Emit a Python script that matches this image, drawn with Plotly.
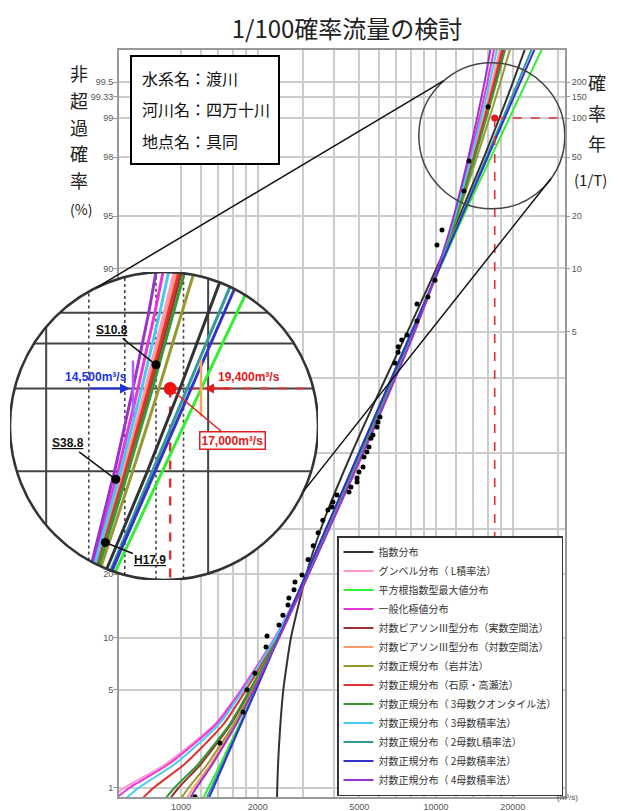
import math
from statistics import NormalDist
import plotly.graph_objects as go

_nd = NormalDist()


def zq(p):
    """Non-exceedance probability -> normal probability-paper coordinate."""
    return _nd.inv_cdf(p)


# ---------------------------------------------------------------- data
# non-exceedance probabilities at which the fitted curves were read
P_LEVELS = [0.008, 0.01, 0.015, 0.02, 0.03, 0.05, 0.1, 0.2, 0.5, 0.8, 0.9, 0.95, 0.98, 0.99, 0.995, 0.998]

Q_GUMBEL   = [518, 598, 853, 1044, 1358, 1715, 2335, 3147, 5200, 8250, 10218, 11930, 13910, 15290, 16600, 18210]
Q_SQRTET   = [1214, 1279, 1419, 1526, 1698, 1953, 2410, 3100, 4990, 8030, 10340, 12810, 16420, 19390, 22610, 27250]
Q_GEV      = [546, 626, 879, 1068, 1377, 1729, 2341, 3148, 5180, 8240, 10185, 11810, 13600, 14810, 15920, 17240]
Q_LP3_REAL = [898, 977, 1184, 1334, 1574, 1873, 2405, 3162, 5120, 8180, 10240, 12000, 14110, 15610, 17060, 18870]
Q_LP3_LOG  = [1045, 1119, 1297, 1428, 1639, 1920, 2424, 3166, 5130, 8190, 10225, 11950, 13980, 15400, 16760, 18430]
Q_LN_IWAI  = [992, 1069, 1259, 1395, 1617, 1904, 2418, 3165, 5100, 8160, 10280, 12140, 14480, 16200, 17900, 20080]
Q_LN_IT    = [697, 779, 1018, 1192, 1471, 1799, 2372, 3155, 5140, 8200, 10230, 11980, 14040, 15510, 16910, 18650]
Q_LN3_QT   = [861, 941, 1156, 1310, 1557, 1861, 2399, 3161, 5110, 8170, 10250, 12040, 14200, 15760, 17270, 19160]
Q_LN3_MOM  = [599, 680, 929, 1114, 1412, 1755, 2353, 3151, 5150, 8220, 10200, 11870, 13750, 15050, 16260, 17720]
Q_LN2_LMOM = [1252, 1314, 1445, 1548, 1713, 1966, 2414, 3100, 4990, 8030, 10283, 12590, 15770, 18300, 20970, 24700]
Q_LN2_MOM  = [1278, 1339, 1463, 1562, 1722, 1969, 2417, 3100, 4990, 8030, 10300, 12650, 15950, 18600, 21420, 25400]
Q_LN4_MOM  = [1075, 1148, 1319, 1446, 1652, 1928, 2428, 3167, 5170, 8230, 10160, 11740, 13400, 14500, 15510, 16640]

# exponential distribution read at its own probability levels
P_EXP = [0.008, 0.01, 0.02, 0.05, 0.1, 0.2, 0.3, 0.4, 0.5, 0.6, 0.7, 0.8, 0.9, 0.95, 0.98, 0.99, 0.995, 0.998]
Q_EXP = [2380, 2385, 2420, 2520, 2700, 3100, 3540, 4060, 4670, 5410, 6370, 7730, 10040, 12360, 15420, 17730, 20050, 23110]

SERIES_NAMES = [
    "指数分布",
    "グンベル分布（ L積率法）",
    "平方根指数型最大値分布",
    "一般化極値分布",
    "対数ピアソンⅢ型分布（実数空間法）",
    "対数ピアソンⅢ型分布（対数空間法）",
    "対数正規分布（岩井法）",
    "対数正規分布（石原・高瀬法）",
    "対数正規分布（ 3母数クオンタイル法）",
    "対数正規分布（ 3母数積率法）",
    "対数正規分布（ 2母数L積率法）",
    "対数正規分布（ 2母数積率法）",
    "対数正規分布（ 4母数積率法）",
]
SERIES_COLORS = ["#333333", "#ff99cc", "#33ee33", "#ee33dd", "#993333", "#ff9966", "#999933",
                 "#dd3333", "#339933", "#44ccee", "#339999", "#3333cc", "#9933cc"]
SERIES_Q = [Q_EXP, Q_GUMBEL, Q_SQRTET, Q_GEV, Q_LP3_REAL, Q_LP3_LOG, Q_LN_IWAI, Q_LN_IT,
            Q_LN3_QT, Q_LN3_MOM, Q_LN2_LMOM, Q_LN2_MOM, Q_LN4_MOM]
SERIES_P = [P_EXP] + [P_LEVELS] * 12

# observed annual maxima (plotting positions)
OBS_Q = [16000, 13470, 12880, 10560, 10090, 9910, 9300, 8425, 8425, 7695, 7340, 7110, 7100, 6900,
         6030, 5925, 5870, 5660, 5560, 5460, 5360, 5220, 5175, 4990, 4900, 4900, 4640, 4560,
         4090, 3945, 3910, 3770, 3600, 3450, 3300, 3150, 2983, 2800, 2775, 2650, 2630, 2510,
         2423, 2175, 2155, 1950, 1815, 1750, 1422, 1135]
OBS_P = [0.9919, 0.9787, 0.9656, 0.9393, 0.9257, 0.885, 0.8607, 0.8496, 0.8204, 0.7936, 0.784,
         0.770, 0.758, 0.734, 0.599, 0.585, 0.572, 0.550, 0.541, 0.517, 0.503, 0.489, 0.461,
         0.4475, 0.431, 0.420, 0.4067, 0.393, 0.385, 0.367, 0.354, 0.346, 0.32, 0.29, 0.26,
         0.23, 0.1985, 0.185, 0.171, 0.157, 0.1456, 0.130, 0.116, 0.102, 0.089, 0.063, 0.050,
         0.036, 0.022, 0.0085]
OBS_LABELS = ["S10.8", "S38.8", "H17.9"]     # the three largest floods

TARGET_P = 0.99          # 1/100
ADOPTED_Q = 17000
RANGE_MIN_Q = 14500
RANGE_MAX_Q = 19400

# axes ticks / grid
X_GRID = [1000, 1200, 1400, 1600, 1800, 2000, 3000, 4000, 5000, 6000, 7000, 8000, 9000,
          10000, 12000, 14000, 16000, 18000, 20000, 30000]
X_LABELS = ["1000", "", "", "", "", "2000", "", "", "5000", "", "", "", "", "10000",
            "", "", "", "", "20000", ""]
Y_GRID_P = [0.01, 0.05, 0.1, 0.2, 0.3, 0.5, 0.7, 0.8, 0.9, 0.95, 0.98, 0.99, 0.99333, 0.995]
# labels of 30-80 % lie under the magnified view, so they are not shown
Y_LABELS = ["1", "5", "10", "20", "", "", "", "", "90", "95", "98", "99", "99.33", "99.5"]
T_P = [0.8, 0.9, 0.95, 0.98, 0.99, 0.99333, 0.995]
T_LABELS = ["5", "10", "20", "50", "100", "150", "200"]
INSET_Q_SOLID = [10000, 20000]
INSET_Q_DOTTED = [12000, 14000, 16000, 18000]
INSET_P_LINES = [0.98, 0.99, 0.99333, 0.995]

# ---------------------------------------------------------------- layout constants
FIG_W, FIG_H = 631, 811
PL, PT, PR, PB = 119, 50, 565, 797          # main plot box (px)
X_RANGE_LOG = [2.757, 4.506]
Y_RANGE_Z = [-2.389, 2.799]
PX_PER_LOG = (PR - PL) / (X_RANGE_LOG[1] - X_RANGE_LOG[0])
PX_PER_Z = (PB - PT) / (Y_RANGE_Z[1] - Y_RANGE_Z[0])

ZOOM_CX = 4.219          # log10 Q of magnifier centre
ZOOM_CZ = 2.203          # probit of magnifier centre
ZOOM_R_PX = 73           # magnifier radius on the main chart (px)
MAG = 2.11
INSET_C_PX = (164, 426)

RX = ZOOM_R_PX / PX_PER_LOG
RY = ZOOM_R_PX / PX_PER_Z
INSET_R_PX = ZOOM_R_PX * MAG


def px2paper(x, y):
    return x / FIG_W, 1 - y / FIG_H


inset_dom_x = [(INSET_C_PX[0] - INSET_R_PX) / FIG_W, (INSET_C_PX[0] + INSET_R_PX) / FIG_W]
inset_dom_y = [1 - (INSET_C_PX[1] + INSET_R_PX) / FIG_H, 1 - (INSET_C_PX[1] - INSET_R_PX) / FIG_H]


def clip_circle(xs, ys):
    """Clip a polyline (log10 Q, z) to the magnifier circle."""
    pts = [((x - ZOOM_CX) / RX, (y - ZOOM_CZ) / RY) for x, y in zip(xs, ys)]
    ox, oy = [], []
    last = None
    for a, b in zip(pts[:-1], pts[1:]):
        dx, dy = b[0] - a[0], b[1] - a[1]
        A = dx * dx + dy * dy
        B = 2 * (a[0] * dx + a[1] * dy)
        C = a[0] ** 2 + a[1] ** 2 - 1
        disc = B * B - 4 * A * C
        if A == 0 or disc <= 0:
            continue
        s = math.sqrt(disc)
        t0 = max(0.0, (-B - s) / (2 * A))
        t1 = min(1.0, (-B + s) / (2 * A))
        if t0 >= t1:
            continue
        p0 = (ZOOM_CX + (a[0] + t0 * dx) * RX, ZOOM_CZ + (a[1] + t0 * dy) * RY)
        p1 = (ZOOM_CX + (a[0] + t1 * dx) * RX, ZOOM_CZ + (a[1] + t1 * dy) * RY)
        if last is not None and abs(last[0] - p0[0]) < 1e-12 and abs(last[1] - p0[1]) < 1e-12:
            ox.append(p1[0]); oy.append(p1[1])
        else:
            if ox:
                ox.append(None); oy.append(None)
            ox += [p0[0], p1[0]]; oy += [p0[1], p1[1]]
        last = p1
    return ox, oy


def in_circle(x, y):
    return ((x - ZOOM_CX) / RX) ** 2 + ((y - ZOOM_CZ) / RY) ** 2 <= 1


fig = go.Figure()

# ---------------------------------------------------------------- main chart curves
for name, color, ps, qs in zip(SERIES_NAMES, SERIES_COLORS, SERIES_P, SERIES_Q):
    fig.add_trace(go.Scatter(
        x=qs, y=[zq(p) for p in ps], mode="lines", name=name,
        line=dict(color=color, width=2, shape="spline", smoothing=0.5),
        xaxis="x", yaxis="y", hoverinfo="skip"))

# observed points
fig.add_trace(go.Scatter(
    x=OBS_Q, y=[zq(p) for p in OBS_P], mode="markers", showlegend=False,
    marker=dict(color="black", size=5), xaxis="x", yaxis="y", hoverinfo="skip"))

# 1/100 guide lines and adopted value
fig.add_trace(go.Scatter(
    x=[ADOPTED_Q, 10 ** X_RANGE_LOG[1]], y=[zq(TARGET_P)] * 2, mode="lines", showlegend=False,
    line=dict(color="#dd3333", width=1.6, dash="dash"), xaxis="x", yaxis="y", hoverinfo="skip"))
fig.add_trace(go.Scatter(
    x=[ADOPTED_Q, ADOPTED_Q], y=[zq(TARGET_P), Y_RANGE_Z[0]], mode="lines", showlegend=False,
    line=dict(color="#dd3333", width=1.6, dash="dash"), xaxis="x", yaxis="y", hoverinfo="skip"))
fig.add_trace(go.Scatter(
    x=[ADOPTED_Q], y=[zq(TARGET_P)], mode="markers", showlegend=False,
    marker=dict(color="#e02020", size=7), xaxis="x", yaxis="y3", hoverinfo="skip"))

# ---------------------------------------------------------------- inset (magnified)
ylo, yhi = ZOOM_CZ - 2 * RY, ZOOM_CZ + 2 * RY
xlo, xhi = ZOOM_CX - 2 * RX, ZOOM_CX + 2 * RX
for q in INSET_Q_SOLID + INSET_Q_DOTTED:
    gx, gy = clip_circle([math.log10(q)] * 2, [ylo, yhi])
    fig.add_trace(go.Scatter(
        x=gx, y=gy, mode="lines", showlegend=False, hoverinfo="skip", xaxis="x2", yaxis="y2",
        line=dict(color="#444444", width=2 if q in INSET_Q_SOLID else 1.6,
                  dash="solid" if q in INSET_Q_SOLID else "dot")))
for p in INSET_P_LINES:
    gx, gy = clip_circle([xlo, xhi], [zq(p)] * 2)
    fig.add_trace(go.Scatter(
        x=gx, y=gy, mode="lines", showlegend=False, hoverinfo="skip", xaxis="x2", yaxis="y2",
        line=dict(color="#444444", width=2)))

# red dashed guides in inset
gx, gy = clip_circle([math.log10(ADOPTED_Q), xhi], [zq(TARGET_P)] * 2)
fig.add_trace(go.Scatter(x=gx, y=gy, mode="lines", showlegend=False, hoverinfo="skip",
                         xaxis="x2", yaxis="y2", line=dict(color="#dd3333", width=2, dash="dash")))
gx, gy = clip_circle([math.log10(ADOPTED_Q)] * 2, [zq(TARGET_P), ylo])
fig.add_trace(go.Scatter(x=gx, y=gy, mode="lines", showlegend=False, hoverinfo="skip",
                         xaxis="x2", yaxis="y2", line=dict(color="#dd3333", width=2.5, dash="dash")))

for name, color, ps, qs in zip(SERIES_NAMES, SERIES_COLORS, SERIES_P, SERIES_Q):
    cx, cy = clip_circle([math.log10(q) for q in qs], [zq(p) for p in ps])
    fig.add_trace(go.Scatter(
        x=cx, y=cy, mode="lines", showlegend=False, hoverinfo="skip",
        line=dict(color=color, width=3), xaxis="x2", yaxis="y2"))

ix = [math.log10(q) for q, p in zip(OBS_Q, OBS_P) if in_circle(math.log10(q), zq(p))]
iy = [zq(p) for q, p in zip(OBS_Q, OBS_P) if in_circle(math.log10(q), zq(p))]
fig.add_trace(go.Scatter(x=ix, y=iy, mode="markers", showlegend=False, hoverinfo="skip",
                         marker=dict(color="black", size=9), xaxis="x2", yaxis="y2"))

# range ticks and adopted point in inset
fig.add_trace(go.Scatter(
    x=[math.log10(RANGE_MIN_Q)], y=[zq(TARGET_P)], mode="markers", showlegend=False,
    hoverinfo="skip", xaxis="x2", yaxis="y2",
    marker=dict(symbol="line-ns-open", size=40, line=dict(color="#2233dd", width=2.5))))
fig.add_trace(go.Scatter(
    x=[math.log10(RANGE_MAX_Q)], y=[zq(TARGET_P)], mode="markers", showlegend=False,
    hoverinfo="skip", xaxis="x2", yaxis="y2",
    marker=dict(symbol="line-ns-open", size=40, line=dict(color="#e02020", width=2.5))))
fig.add_trace(go.Scatter(
    x=[math.log10(ADOPTED_Q)], y=[zq(TARGET_P)], mode="markers", showlegend=False,
    hoverinfo="skip", xaxis="x2", yaxis="y2", marker=dict(color="#ee1111", size=13)))

# ---------------------------------------------------------------- shapes
shapes = []
# white disc of the magnified view
shapes.append(dict(type="circle", xref="x2", yref="y2", layer="below",
                   x0=ZOOM_CX - RX, x1=ZOOM_CX + RX, y0=ZOOM_CZ - RY, y1=ZOOM_CZ + RY,
                   fillcolor="white", line=dict(width=0)))
shapes.append(dict(type="circle", xref="x2", yref="y2", layer="above",
                   x0=ZOOM_CX - RX, x1=ZOOM_CX + RX, y0=ZOOM_CZ - RY, y1=ZOOM_CZ + RY,
                   line=dict(color="#333333", width=2.5)))
# magnifier circle on the main chart
shapes.append(dict(type="circle", xref="x", yref="y", layer="above",
                   x0=10 ** (ZOOM_CX - RX), x1=10 ** (ZOOM_CX + RX),
                   y0=ZOOM_CZ - RY, y1=ZOOM_CZ + RY,
                   line=dict(color="#444444", width=1.5)))
# connector lines between magnifier and inset
main_c = (PL + (ZOOM_CX - X_RANGE_LOG[0]) * PX_PER_LOG, PB - (ZOOM_CZ - Y_RANGE_Z[0]) * PX_PER_Z)
for a_main, a_inset in [(131, 116), (-36, -25)]:
    p0 = (main_c[0] + ZOOM_R_PX * math.cos(math.radians(a_main)),
          main_c[1] - ZOOM_R_PX * math.sin(math.radians(a_main)))
    p1 = (INSET_C_PX[0] + INSET_R_PX * math.cos(math.radians(a_inset)),
          INSET_C_PX[1] - INSET_R_PX * math.sin(math.radians(a_inset)))
    (x0, y0), (x1, y1) = px2paper(*p0), px2paper(*p1)
    shapes.append(dict(type="line", xref="paper", yref="paper", layer="above",
                       x0=x0, y0=y0, x1=x1, y1=y1, line=dict(color="#111111", width=1.5)))
# info box
bx0, by0 = px2paper(131, 164)
bx1, by1 = px2paper(279, 56)
shapes.append(dict(type="rect", xref="paper", yref="paper", layer="above",
                   x0=bx0, y0=by0, x1=bx1, y1=by1, fillcolor="white",
                   line=dict(color="black", width=2)))

# ---------------------------------------------------------------- annotations
JP = "Noto Sans CJK JP"
ann = []
for txt, ypx in [("水系名：渡川", 78), ("河川名：四万十川", 109), ("地点名：具同", 141)]:
    x, y = px2paper(140, ypx)
    ann.append(dict(text=txt, x=x, y=y, xref="paper", yref="paper", xanchor="left",
                    yanchor="middle", showarrow=False, font=dict(family=JP, size=16, color="#111")))
for txt, ypx in zip(["非", "超", "過", "確", "率"], [58, 85, 112, 138, 165]):
    x, y = px2paper(68, ypx)
    ann.append(dict(text=txt, x=x, y=y, xref="paper", yref="paper", showarrow=False,
                    font=dict(family=JP, size=18, color="#222")))
x, y = px2paper(68, 197)
ann.append(dict(text="(%)", x=x, y=y, xref="paper", yref="paper", showarrow=False,
                font=dict(family=JP, size=14, color="#222")))
for txt, ypx in zip(["確", "率", "年"], [67, 98, 128]):
    x, y = px2paper(608, ypx)
    ann.append(dict(text=txt, x=x, y=y, xref="paper", yref="paper", showarrow=False,
                    font=dict(family=JP, size=18, color="#222")))
x, y = px2paper(609, 167)
ann.append(dict(text="(1/T)", x=x, y=y, xref="paper", yref="paper", showarrow=False,
                font=dict(family=JP, size=15, color="#222")))
x, y = px2paper(580, 804)
ann.append(dict(text="(m³/s)", x=x, y=y, xref="paper", yref="paper", showarrow=False,
                font=dict(family="Liberation Sans", size=8, color="#555")))

LBL = dict(family="Liberation Sans", size=12, color="#111")
for label, (ax, ay), q, p in zip(OBS_LABELS, [(-44, -35), (-48, -36), (45, 18)], OBS_Q, OBS_P):
    ann.append(dict(text="<b><u>" + label + "</u></b>", x=math.log10(q), y=zq(p),
                    xref="x2", yref="y2", ax=ax, ay=ay, showarrow=True, arrowhead=0,
                    arrowwidth=1.5, arrowcolor="#111", font=LBL))

yt = zq(TARGET_P)
ann.append(dict(text="<b>%sm³/s</b>" % f"{RANGE_MIN_Q:,}", x=math.log10(RANGE_MIN_Q), y=yt,
                xref="x2", yref="y2", xanchor="right", yanchor="bottom", xshift=-4, yshift=3,
                showarrow=False, font=dict(family="Liberation Sans", size=12, color="#2233dd")))
ann.append(dict(text="", x=math.log10(RANGE_MIN_Q), y=yt, xref="x2", yref="y2", ax=-45, ay=0,
                showarrow=True, arrowhead=2, arrowsize=1, arrowwidth=2, arrowcolor="#2233dd", standoff=3))
ann.append(dict(text="<b>%sm³/s</b>" % f"{RANGE_MAX_Q:,}", x=math.log10(RANGE_MAX_Q), y=yt,
                xref="x2", yref="y2", xanchor="left", yanchor="bottom", xshift=15, yshift=3,
                showarrow=False, font=dict(family="Liberation Sans", size=12, color="#e02020")))
ann.append(dict(text="", x=math.log10(RANGE_MAX_Q), y=yt, xref="x2", yref="y2", ax=30, ay=0,
                showarrow=True, arrowhead=2, arrowsize=1, arrowwidth=2, arrowcolor="#e02020", standoff=3))
ann.append(dict(text="<b>%sm³/s</b>" % f"{ADOPTED_Q:,}", x=math.log10(ADOPTED_Q), y=yt,
                xref="x2", yref="y2", ax=62, ay=52, showarrow=True, arrowhead=0, arrowwidth=1.5,
                arrowcolor="#e02020", bordercolor="#e02020", borderwidth=1.5, borderpad=1,
                bgcolor="white", font=dict(family="Liberation Sans", size=12, color="#e02020")))

# ---------------------------------------------------------------- layout
TICKF = dict(family="Liberation Sans", size=9, color="#555")
fig.update_layout(
    width=FIG_W, height=FIG_H, autosize=False,
    margin=dict(l=0, r=0, t=0, b=0),
    paper_bgcolor="white", plot_bgcolor="rgba(0,0,0,0)",
    title=dict(text="1/100確率流量の検討", x=347 / FIG_W, xanchor="center", xref="paper",
               y=1 - 30 / FIG_H, yref="container", yanchor="middle",
               font=dict(family=JP, size=24, color="#222")),
    showlegend=True,
    legend=dict(x=563 / FIG_W, xanchor="right", y=15 / FIG_H, yanchor="bottom",
                bgcolor="white", bordercolor="#333", borderwidth=1.5,
                font=dict(family=JP, size=10, color="#333"), itemwidth=30,
                tracegroupgap=0, traceorder="normal"),
    xaxis=dict(type="log", range=X_RANGE_LOG, domain=[PL / FIG_W, PR / FIG_W], anchor="y",
               tickmode="array", tickvals=X_GRID, ticktext=X_LABELS, showgrid=True,
               gridcolor="#cccccc", gridwidth=1.5, showline=True, mirror=True,
               linecolor="#999", linewidth=2, ticks="", tickfont=TICKF, zeroline=False),
    yaxis=dict(range=Y_RANGE_Z, domain=[1 - PB / FIG_H, 1 - PT / FIG_H], anchor="x",
               tickmode="array", tickvals=[zq(p) for p in Y_GRID_P], ticktext=Y_LABELS,
               showgrid=True, gridcolor="#cccccc", gridwidth=1.5, showline=True, mirror=True,
               linecolor="#999", linewidth=2, ticks="outside", ticklen=4, tickcolor="#999",
               ticklabelstandoff=-2, tickfont=TICKF, zeroline=False),
    yaxis3=dict(overlaying="y", side="right", anchor="x", range=Y_RANGE_Z,
                tickmode="array", tickvals=[zq(p) for p in T_P], ticktext=T_LABELS,
                showgrid=False, ticks="outside", ticklen=4, tickcolor="#999",
                tickfont=TICKF, zeroline=False, showline=False),
    xaxis2=dict(domain=inset_dom_x, range=[ZOOM_CX - RX, ZOOM_CX + RX], anchor="y2",
                visible=False, showgrid=False, zeroline=False),
    yaxis2=dict(domain=inset_dom_y, range=[ZOOM_CZ - RY, ZOOM_CZ + RY], anchor="x2",
                visible=False, showgrid=False, zeroline=False),
    shapes=shapes,
    annotations=ann,
)

# remove the browser's default body margin so the figure fills the window exactly
fig.write_html("out.html", config={"displayModeBar": False},
               post_script="document.body.style.margin='0px';document.body.style.overflow='hidden';")
